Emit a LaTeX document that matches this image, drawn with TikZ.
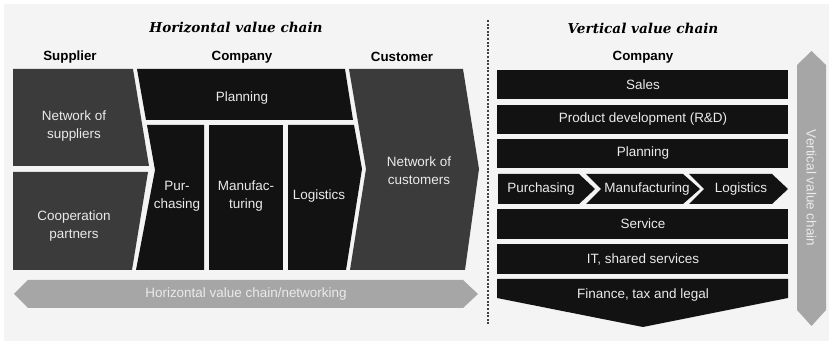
\documentclass[tikz,border=0pt]{standalone}
\usepackage{fontspec}
\setmainfont{Liberation Sans}
\newfontfamily\titlefont{DejaVu Serif}
\usepackage{xcolor}
\usepackage{tikz}

\definecolor{bgpanel}{HTML}{F4F4F4}
\definecolor{boxblack}{HTML}{121212}
\definecolor{boxdark}{HTML}{3B3B3B}
\definecolor{arrowgray}{HTML}{A6A6A6}
\definecolor{labelwhite}{HTML}{EAEAEA}

\tikzset{
  boxtext/.style={inner sep=0.75pt, text=labelwhite, align=center, font=\fontsize{10.1}{13.5}\selectfont},
  headtext/.style={inner sep=0.75pt, font=\fontsize{10}{12}\selectfont\bfseries},
  chaintitle/.style={inner sep=0.75pt, font=\fontsize{10.2}{12}\selectfont\titlefont\bfseries\itshape},
}

\begin{document}
\begin{tikzpicture}[x=0.75pt,y=0.75pt,yscale=-1,xscale=1]
\useasboundingbox (0,0) rectangle (833,345);
\fill [white] (0,0) rectangle (833,345);
\fill [bgpanel] (4,4) rectangle (829,341);

%Shape: Supplier column
\fill [boxdark] (13,69) -- (133,69) -- (149,166) -- (13,166) -- cycle ;
\fill [boxdark] (13,172) -- (148,172) -- (132,270) -- (13,270) -- cycle ;
%Shape: Company column
\fill [boxblack] (137,69) -- (345,69) -- (353,120) -- (146,120) -- cycle ;
\fill [boxblack] (147,125) -- (204,125) -- (204,270) -- (136,270) -- (155,170) -- cycle ;
\fill [boxblack] (209,125) -- (283,125) -- (283,270) -- (209,270) -- cycle ;
\fill [boxblack] (288,125) -- (354,125) -- (362,169) -- (346,270) -- (288,270) -- cycle ;
%Shape: Customer column
\fill [boxdark] (349,69) -- (463,69) -- (479,169) -- (465,270) -- (350,270) -- (366,169) -- cycle ;
%Shape: Horizontal arrow
\fill [arrowgray] (14,294) -- (28,280) -- (463,280) -- (478,294) -- (463,308) -- (28,308) -- cycle ;

%Straight Lines: divider
\draw [color=black!75, line width=0.9, dash pattern={on 1.5pt off 1.2pt}] (488,20) -- (488,325) ;

%Shape: Vertical stack
\fill [boxblack] (497,70) rectangle (788,99) ;
\fill [boxblack] (497,105) rectangle (788,134) ;
\fill [boxblack] (497,139) rectangle (788,168) ;
\fill [boxblack] (498,174) -- (579,174) -- (595,189) -- (579,204) -- (498,204) -- cycle ;
\fill [boxblack] (586,174) -- (683,174) -- (700,189) -- (683,204) -- (586,204) -- (601,189) -- cycle ;
\fill [boxblack] (689,174) -- (772,174) -- (788,189) -- (772,204) -- (689,204) -- (704,189) -- cycle ;
\fill [boxblack] (497,209) rectangle (788,239) ;
\fill [boxblack] (497,244) rectangle (788,274) ;
\fill [boxblack] (497,279) -- (788,279) -- (788,298) -- (643,327) -- (497,298) -- cycle ;
%Shape: Vertical arrow
\fill [arrowgray] (811.5,51) -- (826,65) -- (826,310) -- (811.5,326) -- (797,310) -- (797,65) -- cycle ;

% Text Node
\node [chaintitle] (htitle) at (236,28) {Horizontal value chain};
% Text Node
\node [chaintitle] (vtitle) at (643,28) {Vertical value chain};
% Text Node
\node [headtext] (supplier) at (70,57) {Supplier};
% Text Node
\node [headtext] (company) at (242,57) {Company};
% Text Node
\node [headtext] (customer) at (402,57) {Customer};
% Text Node
\node [headtext] (vcompany) at (643,57) {Company};

% Text Node
\node [boxtext] (suppliers) at (74,126) {Network of\\suppliers};
% Text Node
\node [boxtext] (partners) at (74,226) {Cooperation\\partners};
% Text Node
\node [boxtext] (hplanning) at (242,98) {Planning};
% Text Node
\node [boxtext] (hpurchasing) at (177,196) {Pur-\\chasing};
% Text Node
\node [boxtext] (hmanufacturing) at (246,196) {Manufac-\\turing};
% Text Node
\node [boxtext] (hlogistics) at (319,196) {Logistics};
% Text Node
\node [boxtext] (customers) at (419,171) {Network of\\customers};
% Text Node
\node [boxtext] (networking) at (246,294) {Horizontal value chain/networking};

% Text Node
\node [boxtext] (sales) at (643,85) {Sales};
% Text Node
\node [boxtext] (rnd) at (643,119.5) {Product development (R\&D)};
% Text Node
\node [boxtext] (vplanning) at (643,153.5) {Planning};
% Text Node
\node [boxtext] (vpurchasing) at (541,189) {Purchasing};
% Text Node
\node [boxtext] (vmanufacturing) at (647,189) {Manufacturing};
% Text Node
\node [boxtext] (vlogistics) at (741,189) {Logistics};
% Text Node
\node [boxtext] (service) at (643,224) {Service};
% Text Node
\node [boxtext] (itshared) at (643,259) {IT, shared services};
% Text Node
\node [boxtext] (finance) at (643,295) {Finance, tax and legal};
% Text Node
\node [boxtext, rotate=-90] (vchain) at (811.5,188) {Vertical value chain};

\end{tikzpicture}
\end{document}
